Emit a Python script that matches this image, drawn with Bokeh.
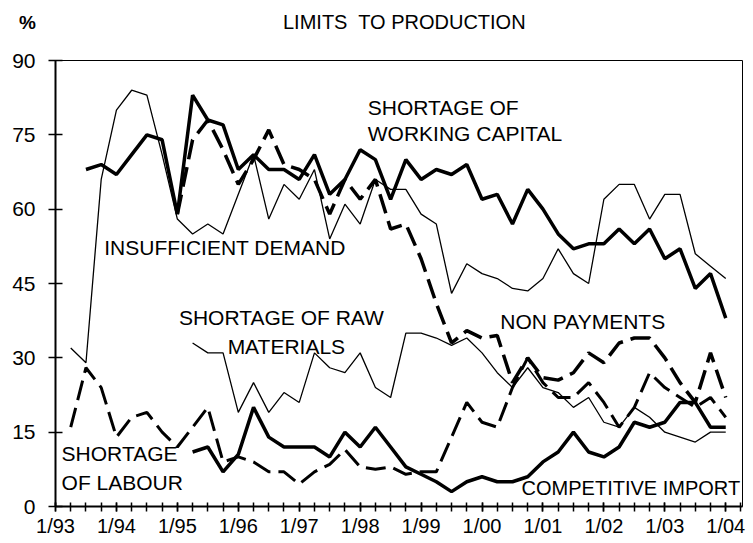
import numpy as np
from bokeh.plotting import figure
from bokeh.layouts import column
from bokeh.models import FixedTicker, Label, Range1d, Div
from bokeh.embed import file_html
from bokeh.resources import INLINE

N = None
# quarters from 1993Q1 (index 0) to 2004Q1 (index 44)
quarters = [f"{1993 + i // 4}Q{i % 4 + 1}" for i in range(45)]
year_labels = ["1/93", "1/94", "1/95", "1/96", "1/97", "1/98", "1/99",
               "1/00", "1/01", "1/02", "1/03", "1/04"]

working_capital = [N, N, 68, 69, 67, 71, 75, 74, 59, 83, 78, 77, 68, 71, 68, 68,
                   66, 71, 63, 66, 72, 70, 62, 70, 66, 68, 67, 69, 62, 63, 57, 64,
                   60, 55, 52, 53, 53, 56, 53, 56, 50, 52, 44, 47, 38]
insufficient_demand = [N, 32, 29, 66, 80, 84, 83, 71, 58, 55, 57, 55, 63, 71, 58, 65,
                       62, 68, 54, 61, 57, 66, 64, 64, 59, 57, 43, 49, 47, 46, 44, 43.5,
                       46, 52, 47, 45, 62, 65, 65, 58, 63, 63, 51, 48.5, 46]
raw_materials = [N, N, N, N, N, N, N, N, N, 33, 31, 31, 19, 25, 19, 23,
                 21, 31, 28, 27, 31, 24, 22, 35, 35, 34, 32.5, 34, 31, 27, 24, 28,
                 24, 23, 20, 22, 17, 16, 20, 18, 15, 14, 13, 15, 15]
competitive_import = [N, N, N, N, N, N, N, N, N, 11, 12, 7, 10.5, 20, 14, 12,
                      12, 12, 10, 15, 12, 16, 12, 8, 6.5, 5, 3, 5, 6, 5, 5, 6,
                      9, 11, 15, 11, 10, 12, 17, 16, 17, 21, 21, 16, 16]
non_payments = [N, N, N, N, N, N, N, N, 59, 74, 78, 72, 65, 70, 76, 69,
                68, 66, 59, 66, 62, 66, 56, 57, 50, 41, 33, 35.5, 34, 34.5, 25, 30,
                26, 25.5, 27, 31, 29, 33, 34, 34, 30, 25, 21, 31, 22]
shortage_labour = [N, 16, 28, 24, 14, 18, 19, 15, 12, 16, 20, 9, 10, 9, 7, 7,
                   4.5, 7, 8.5, 11.5, 8, 7.5, 8, 6.5, 7, 7, 14, 21, 17, 16, 24, 30,
                   25, 22, 22, 25, 21, 16, 20, 27, 24, 22, 20, 22, 18]


def arr(v):
    return np.array([np.nan if a is None else a for a in v], dtype=float)


x = np.arange(len(quarters))
FONT = "Liberation Sans"

HEADER_H = 48
header = Div(
    width=753, height=HEADER_H, margin=0,
    text=(
        '<div style="position:relative;width:753px;height:48px;margin:0;padding:0;'
        'font-family:\'Liberation Sans\',Arial,sans-serif;color:black;">'
        '<span style="position:absolute;left:19px;top:11px;font-size:19px;'
        'font-weight:bold;line-height:24px;">%</span>'
        '<span style="position:absolute;left:283px;top:10px;font-size:20px;'
        'line-height:24px;white-space:pre;">LIMITS  TO PRODUCTION</span>'
        '</div>'
    ),
)

p = figure(width=753, height=543 - HEADER_H, output_backend="svg", toolbar_location=None,
           x_range=Range1d(0, 45.1), y_range=Range1d(0, 90),
           min_border_left=55, min_border_right=11, min_border_top=60 - HEADER_H,
           min_border_bottom=37, background_fill_color="white", margin=0)
p.xgrid.visible = False
p.ygrid.visible = False
p.outline_line_color = "black"
p.outline_line_width = 1

xa = p.xaxis[0]
xa.ticker = FixedTicker(ticks=list(range(0, 45, 4)), minor_ticks=list(range(0, 46)))
xa.major_label_overrides = {4 * i: lab for i, lab in enumerate(year_labels)}
xa.major_tick_in = 4
xa.major_tick_out = 5
xa.minor_tick_in = 4
xa.minor_tick_out = 5
xa.axis_line_width = 2
xa.major_tick_line_width = 1.5
xa.minor_tick_line_width = 1.5
xa.major_label_standoff = 3
xa.major_label_text_font = FONT
xa.major_label_text_font_size = "20px"
xa.major_label_text_color = "black"

ya = p.yaxis[0]
ya.ticker = FixedTicker(ticks=[0, 15, 30, 45, 60, 75, 90])
ya.major_tick_in = 7
ya.major_tick_out = 7
ya.minor_tick_line_color = None
ya.axis_line_width = 2
ya.major_tick_line_width = 1.5
ya.major_label_standoff = 13
ya.major_label_text_font = FONT
ya.major_label_text_font_size = "21px"
ya.major_label_text_color = "black"

dash = "20 8"
p.line(x, arr(insufficient_demand), line_width=1.3, color="black")
p.line(x, arr(raw_materials), line_width=1.3, color="black")
p.line(x, arr(shortage_labour), line_width=3, color="black", line_dash=dash)
p.line(x, arr(non_payments), line_width=3.5, color="black", line_dash=dash)
p.line(x, arr(competitive_import), line_width=3.5, color="black")
p.line(x, arr(working_capital), line_width=3.5, color="black")

labels = [
    ("SHORTAGE OF", 20.5, 80.5, "21px"),
    ("WORKING CAPITAL", 20.5, 75.3, "21px"),
    ("INSUFFICIENT DEMAND", 3.2, 52.3, "21px"),
    ("SHORTAGE OF RAW", 8.1, 38.1, "21px"),
    ("MATERIALS", 11.3, 32.3, "21px"),
    ("NON PAYMENTS", 29.2, 37.3, "21px"),
    ("SHORTAGE", 0.4, 10.7, "21px"),
    ("OF LABOUR", 0.4, 4.8, "21px"),
    ("COMPETITIVE IMPORT", 30.6, 3.8, "20px"),
]
for txt, lx, ly, fs in labels:
    p.add_layout(Label(x=lx, y=ly, text=txt, text_font=FONT, text_font_size=fs,
                       text_baseline="middle", text_align="left", text_color="black"))

layout = column(header, p, spacing=0, margin=0)
open("out.html", "w").write(file_html(layout, INLINE))
